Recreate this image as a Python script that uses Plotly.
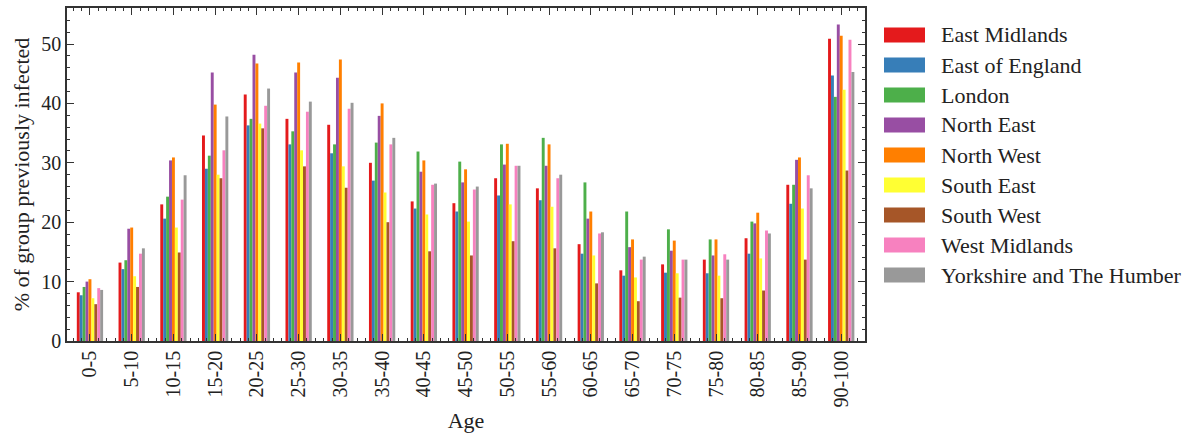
import plotly.graph_objects as go

ages = ["0-5", "5-10", "10-15", "15-20", "20-25", "25-30", "30-35", "35-40", "40-45",
        "45-50", "50-55", "55-60", "60-65", "65-70", "70-75", "75-80", "80-85", "85-90", "90-100"]

regions = ["East Midlands", "East of England", "London", "North East", "North West",
           "South East", "South West", "West Midlands", "Yorkshire and The Humber"]

colors = ["#e41a1c", "#377eb8", "#4daf4a", "#984ea3", "#ff7f00",
          "#ffff33", "#a65628", "#f781bf", "#999999"]

east_midlands = [8.2, 13.2, 23.0, 34.6, 41.5, 37.4, 36.4, 30.0, 23.5, 23.2, 27.4, 25.7, 16.3, 11.9, 12.9, 13.7, 17.3, 26.3, 50.9]
east_of_england = [7.7, 12.1, 20.6, 29.0, 36.3, 33.1, 31.6, 27.0, 22.3, 21.8, 24.5, 23.7, 14.7, 11.0, 11.5, 11.4, 14.7, 23.1, 44.7]
london = [9.1, 13.6, 24.3, 31.2, 37.4, 35.3, 33.1, 33.4, 31.9, 30.2, 33.1, 34.2, 26.7, 21.8, 18.8, 17.1, 20.1, 26.3, 41.1]
north_east = [10.0, 18.9, 30.4, 45.2, 48.2, 45.2, 44.3, 37.9, 28.5, 26.7, 29.7, 29.5, 20.6, 15.8, 15.2, 14.4, 19.8, 30.5, 53.3]
north_west = [10.4, 19.1, 30.9, 39.8, 46.7, 46.9, 47.4, 40.0, 30.4, 28.9, 33.2, 33.1, 21.8, 17.1, 16.9, 17.1, 21.6, 30.9, 51.4]
south_east = [7.2, 10.9, 19.1, 28.0, 36.6, 32.1, 29.4, 25.0, 21.3, 20.1, 23.0, 22.6, 14.4, 10.7, 11.4, 11.0, 13.9, 22.3, 42.3]
south_west = [6.2, 9.1, 14.9, 27.4, 35.8, 29.4, 25.8, 20.0, 15.1, 14.4, 16.8, 15.6, 9.7, 6.7, 7.3, 7.2, 8.5, 13.7, 28.7]
west_midlands = [8.9, 14.7, 23.8, 32.1, 39.6, 38.6, 39.1, 33.1, 26.3, 25.5, 29.5, 27.4, 18.1, 13.7, 13.7, 14.6, 18.6, 27.9, 50.7]
yorkshire = [8.6, 15.6, 27.9, 37.8, 42.5, 40.3, 40.1, 34.2, 26.5, 26.0, 29.5, 28.0, 18.3, 14.2, 13.7, 13.7, 18.1, 25.7, 45.3]

series = [east_midlands, east_of_england, london, north_east, north_west,
          south_east, south_west, west_midlands, yorkshire]

FONT = "Liberation Serif"
TXT = "#222222"
positions = list(range(len(ages)))

# layout geometry (pixels)
W, H = 1192, 435
ML, MR, MT, MB = 67, 327, 8, 94
PW, PH = W - ML - MR, H - MT - MB

fig = go.Figure()
for name, vals, col in zip(regions, series, colors):
    fig.add_trace(go.Bar(x=positions, y=vals, name=name, marker_color=col,
                         marker_line_width=0, showlegend=False))

axis_common = dict(showline=True, linecolor="#333333", linewidth=1.5, mirror="allticks",
                   ticks="inside", tickcolor="#333333", tickwidth=1.2, ticklen=7,
                   showgrid=False, zeroline=False, automargin=False,
                   tickfont=dict(family=FONT, size=20, color=TXT))

# legend drawn as patches + labels (paper coordinates computed from pixel layout)
shapes, annotations = [], []
for i, (name, col) in enumerate(zip(regions, colors)):
    cy = 35 + 30 * i
    x0 = (884 - ML) / PW
    x1 = (925 - ML) / PW
    y0 = (H - MB - (cy + 7.5)) / PH
    y1 = (H - MB - (cy - 7.5)) / PH
    shapes.append(dict(type="rect", xref="paper", yref="paper", x0=x0, x1=x1, y0=y0, y1=y1,
                       fillcolor=col, line=dict(width=0)))
    annotations.append(dict(xref="paper", yref="paper", x=(939 - ML) / PW,
                            y=(H - MB - cy) / PH, xanchor="left", yanchor="middle",
                            text=name, showarrow=False,
                            font=dict(family=FONT, size=22, color=TXT)))

fig.update_layout(
    width=W, height=H,
    margin=dict(l=ML, r=MR, t=MT, b=MB),
    paper_bgcolor="white", plot_bgcolor="white",
    barmode="group", bargap=0.37, bargroupgap=0,
    font=dict(family=FONT, size=20, color=TXT),
    showlegend=False,
    shapes=shapes, annotations=annotations,
    xaxis=dict(**axis_common, range=[-0.55, 18.57], tickmode="array",
               tickvals=positions, ticktext=ages, tickangle=-90,
               minor=dict(tick0=0, dtick=0.2, ticks="inside", ticklen=3.5,
                          tickcolor="#333333", tickwidth=1),
               title=dict(text="Age", font=dict(family=FONT, size=22, color=TXT), standoff=6)),
    yaxis=dict(**axis_common, range=[0, 56.06], tickmode="linear", tick0=0, dtick=10,
               minor=dict(tick0=0, dtick=2, ticks="inside", ticklen=3.5,
                          tickcolor="#333333", tickwidth=1),
               title=dict(text="% of group previously infected",
                          font=dict(family=FONT, size=22, color=TXT), standoff=6)),
)

fig.write_html("out.html", config={"displayModeBar": False},
               post_script="document.body.style.margin='0';document.body.style.padding='0';")
